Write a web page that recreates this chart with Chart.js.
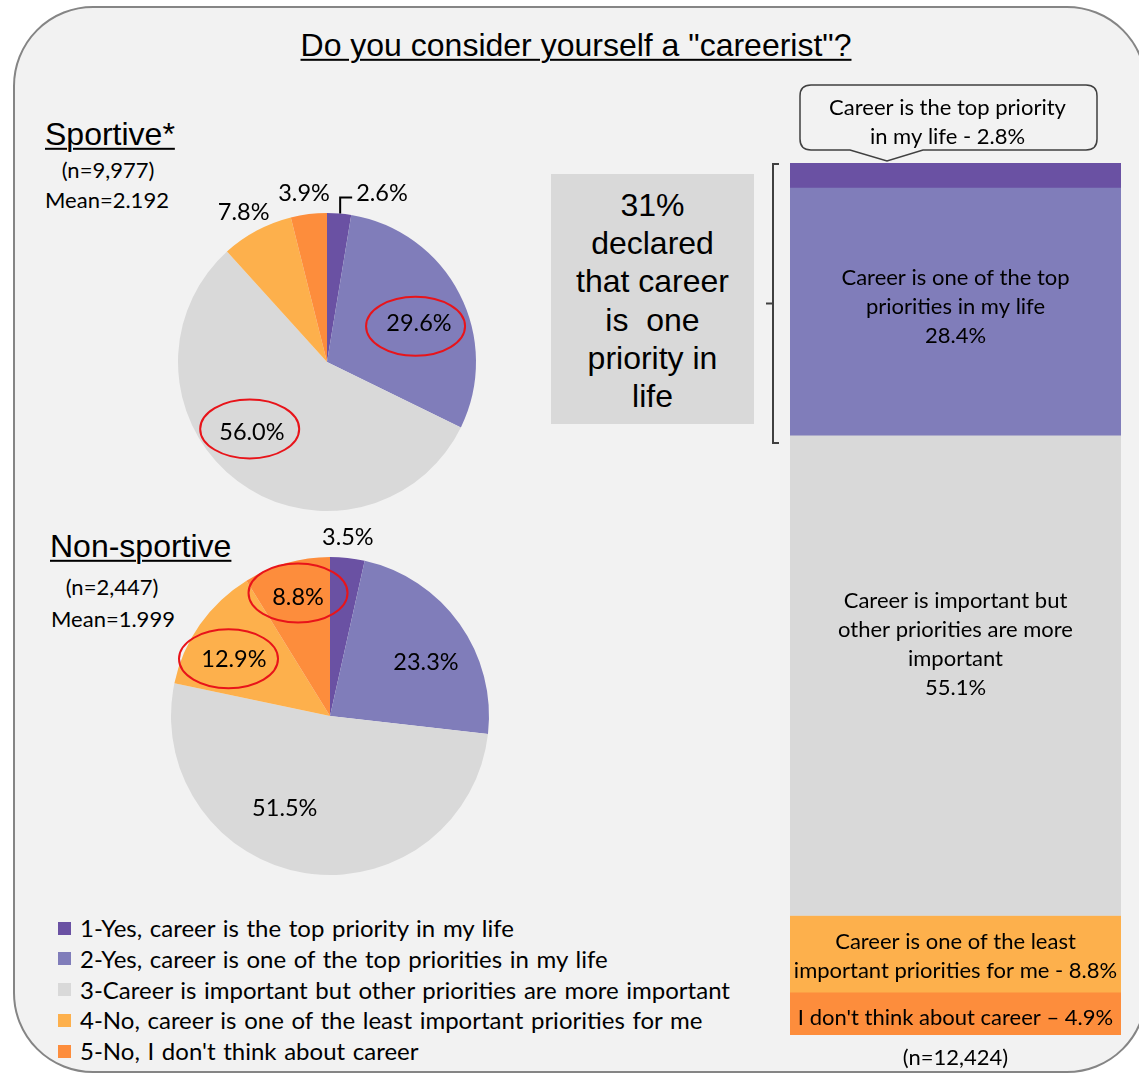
<!DOCTYPE html>
<html><head><meta charset="utf-8">
<script src="https://cdn.jsdelivr.net/npm/chart.js@4.4.1/dist/chart.umd.min.js"></script>
<style>
html,body{margin:0;padding:0;background:#fff;}
#wrap{position:relative;width:1139px;height:1075px;overflow:hidden;background:#fff;}
#frame{position:absolute;left:13px;top:6px;width:1134px;height:1067px;box-sizing:border-box;border:2px solid #858585;border-radius:80px;background:#F2F2F2;}
.t{position:absolute;white-space:nowrap;color:#000;line-height:1.2;}
.c{transform:translate(-50%,-50%);text-align:center;}
.l{transform:translate(0,-50%);}
.arial{font-family:"Liberation Sans",Arial,sans-serif;}
.cal{font-family:Lato,"Noto Sans",sans-serif;}
.u{text-decoration:underline;text-decoration-thickness:2px;text-underline-offset:3px;}
canvas{position:absolute;}
#box{position:absolute;left:551px;top:174px;width:203px;height:250px;background:#D9D9D9;}
#boxtext{position:absolute;left:0;top:12px;width:203px;text-align:center;font-family:"Liberation Sans",Arial,sans-serif;font-size:32px;line-height:38.2px;color:#000;}
.sw{position:absolute;width:13px;height:13px;}
</style></head>
<body>
<div id="wrap">
  <div id="frame"></div>
  <div class="t c arial u" style="left:576px;top:45px;font-size:32px;">Do you consider yourself a "careerist"?</div>
  <div class="t l arial u" style="left:45px;top:134px;font-size:32px;">Sportive*</div>
  <div class="t c cal" style="left:108px;top:170px;font-size:22px;">(n=9,977)</div>
  <div class="t l cal" style="left:45px;top:200px;font-size:22px;">Mean=2.192</div>
  <div class="t l arial u" style="left:50px;top:546px;font-size:32px;">Non-sportive</div>
  <div class="t c cal" style="left:112px;top:587px;font-size:22px;">(n=2,447)</div>
  <div class="t l cal" style="left:51px;top:619px;font-size:22px;">Mean=1.999</div>
  <div id="box"><div id="boxtext">31%<br>declared<br>that career<br>is&nbsp; one<br>priority in<br>life</div></div>
  <canvas id="pie1" width="360" height="350" style="left:150px;top:170px;"></canvas>
  <canvas id="pie2" width="360" height="360" style="left:150px;top:520px;"></canvas>
  <canvas id="bar" width="399" height="1005" style="left:740px;top:70px;"></canvas>
  <div id="legend"></div>
</div>
<script>
// ---- data ----
const categories = [
  '1-Yes, career is the top priority in my life',
  '2-Yes, career is one of the top priorities in my life',
  '3-Career is important but other priorities are more important',
  '4-No, career is one of the least important priorities for me',
  "5-No, I don't think about career"
];
const sportiveValues = [2.6, 29.6, 56.0, 7.8, 3.9];
const nonSportiveValues = [3.5, 23.3, 51.5, 12.9, 8.8];
const totalValues = [2.8, 28.4, 55.1, 8.8, 4.9];
const totalLabelLines = [
  ['Career is the top priority', 'in my life - {v}'],
  ['Career is one of the top', 'priorities in my life', '{v}'],
  ['Career is important but', 'other priorities are more', 'important', '{v}'],
  ['Career is one of the least', 'important priorities for me - {v}'],
  ["I don't think about career \u2013 {v}"]
];
const totalN = '(n=12,424)';
const colors = ['#6A51A3', '#807DBA', '#D9D9D9', '#FDB04C', '#FD8D3C'];

const CAL = 'Lato, "Noto Sans", sans-serif';
const fmt = v => v.toFixed(1) + '%';

// ---- legend ----
const leg = document.getElementById('legend');
categories.forEach((c, i) => {
  const y = 928 + i * 30.8;
  const sw = document.createElement('div');
  sw.className = 'sw';
  sw.style.left = '58px'; sw.style.top = (y - 6.5) + 'px'; sw.style.background = colors[i];
  leg.appendChild(sw);
  const t = document.createElement('div');
  t.className = 't l cal';
  t.style.left = '80px'; t.style.top = y + 'px'; t.style.fontSize = '24px'; t.style.wordSpacing = '1.5px';
  t.textContent = c;
  leg.appendChild(t);
});

// ---- pie label plugin ----
const pieLabelPlugin = {
  id: 'pieLabels',
  afterDatasetsDraw(chart, args, o) {
    const ctx = chart.ctx;
    const meta = chart.getDatasetMeta(0);
    const vals = chart.data.datasets[0].data;
    ctx.save();
    ctx.font = o.fontSize + 'px ' + CAL;
    ctx.fillStyle = '#000';
    ctx.textBaseline = 'middle';
    meta.data.forEach((arc, i) => {
      const p = arc.getProps(['x', 'y', 'startAngle', 'endAngle', 'outerRadius'], true);
      const txt = fmt(vals[i]);
      if (o.leader === i) {
        const mid = (p.startAngle + p.endAngle) / 2;
        const sx = p.x + Math.cos(mid) * p.outerRadius;
        const sy = p.y + Math.sin(mid) * p.outerRadius;
        ctx.strokeStyle = '#000'; ctx.lineWidth = 2;
        ctx.beginPath();
        ctx.moveTo(sx + 1, sy);
        ctx.lineTo(sx + 1, sy - 16);
        ctx.lineTo(sx + 13, sy - 16);
        ctx.stroke();
        ctx.textAlign = 'left';
        ctx.fillText(txt, sx + 17, sy - 20);
        return;
      }
      const mid = (p.startAngle + p.endAngle) / 2 + (o.shift[i] || 0) * Math.PI / 180;
      const lx = p.x + Math.cos(mid) * p.outerRadius * o.radial[i];
      const ly = p.y + Math.sin(mid) * p.outerRadius * o.radial[i];
      ctx.textAlign = 'center';
      ctx.fillText(txt, lx, ly);
      const e = o.ellipse[i];
      if (e) {
        ctx.strokeStyle = '#E8141A'; ctx.lineWidth = 2;
        ctx.beginPath();
        ctx.ellipse(lx + e[0], ly + e[1], 49.5, 29.5, 0, 0, Math.PI * 2);
        ctx.stroke();
      }
    });
    ctx.restore();
  }
};

function makePie(id, values, padding, labelOpts) {
  return new Chart(document.getElementById(id), {
    type: 'pie',
    data: { labels: categories, datasets: [{ data: values, backgroundColor: colors, borderWidth: 0 }] },
    options: {
      responsive: false, animation: false, events: [],
      layout: { padding },
      plugins: { legend: { display: false }, tooltip: { enabled: false }, pieLabels: labelOpts }
    },
    plugins: [pieLabelPlugin]
  });
}

makePie('pie1', sportiveValues, { left: 28, right: 34, top: 43, bottom: 9 }, {
  fontSize: 23.5, leader: 0,
  radial: [0, 0.67, 0.69, 1.15, 1.145],
  shift: [0, 4.4, 10, -1, -0.7],
  ellipse: { 1: [-3.4, 3], 2: [-2.2, -3.3] }
});
makePie('pie2', nonSportiveValues, { left: 21, right: 21, top: 37, bottom: 5 }, {
  fontSize: 23.5, leader: -1,
  radial: [1.13, 0.69, 0.645, 0.70, 0.775],
  shift: [-0.6, 6.5, 17, -4.8, 0.8],
  ellipse: { 3: [-5.4, -1], 4: [0, -4] }
});

// ---- stacked bar ----
const barLabelPlugin = {
  id: 'barLabels',
  afterDatasetsDraw(chart, args, o) {
    const ctx = chart.ctx;
    ctx.save();
    ctx.font = o.fontSize + 'px ' + CAL;
    ctx.fillStyle = '#000';
    ctx.textAlign = 'center';
    ctx.textBaseline = 'middle';
    const segs = chart.data.datasets.map((ds, i) => {
      const b = chart.getDatasetMeta(i).data[0].getProps(['x', 'y', 'base', 'width'], true);
      return { x: b.x, w: b.width, top: Math.min(b.y, b.base), bottom: Math.max(b.y, b.base) };
    });
    chart.data.datasets.forEach((ds, i) => {
      const s = segs[i];
      const lines = totalLabelLines[i].map(l => l.replace('{v}', fmt(totalValues[i])));
      if (i === 0) {
        // callout
        const tipX = s.x - 68.5, tipY = s.top - 2;
        const L = s.x - 155.5, R = s.x + 141.5, T = s.top - 78, B = s.top - 13, r = 11;
        ctx.beginPath();
        ctx.moveTo(L + r, T);
        ctx.lineTo(R - r, T); ctx.quadraticCurveTo(R, T, R, T + r);
        ctx.lineTo(R, B - r); ctx.quadraticCurveTo(R, B, R - r, B);
        ctx.lineTo(tipX + 36, B); ctx.lineTo(tipX, tipY); ctx.lineTo(tipX - 37, B);
        ctx.lineTo(L + r, B); ctx.quadraticCurveTo(L, B, L, B - r);
        ctx.lineTo(L, T + r); ctx.quadraticCurveTo(L, T, L + r, T);
        ctx.closePath();
        ctx.fillStyle = '#F2F2F2'; ctx.fill();
        ctx.strokeStyle = '#404040'; ctx.lineWidth = 1.5; ctx.stroke();
        ctx.fillStyle = '#000';
        const cx = (L + R) / 2 - 1, cy = (T + B) / 2 + 5;
        lines.forEach((ln, k) => ctx.fillText(ln, cx, cy + (k - (lines.length - 1) / 2) * o.lineH));
        return;
      }
      const cy = (s.top + s.bottom) / 2 + (o.offsets[i] || 0);
      lines.forEach((ln, k) => ctx.fillText(ln, s.x, cy + (k - (lines.length - 1) / 2) * o.lineH));
    });
    // bracket over first two segments
    const bx = segs[0].x - segs[0].w / 2 - 17;
    const by0 = segs[0].top + 1, by1 = segs[1].bottom + 8;
    ctx.strokeStyle = '#404040'; ctx.lineWidth = 2;
    ctx.beginPath();
    ctx.moveTo(bx + 6, by0); ctx.lineTo(bx, by0); ctx.lineTo(bx, by1); ctx.lineTo(bx + 6, by1);
    ctx.moveTo(bx, (by0 + by1) / 2); ctx.lineTo(bx - 7, (by0 + by1) / 2);
    ctx.stroke();
    // n label
    const last = segs[segs.length - 1];
    ctx.fillText(totalN, last.x, last.bottom + 23);
    ctx.restore();
  }
};

new Chart(document.getElementById('bar'), {
  type: 'bar',
  data: {
    labels: ['All'],
    datasets: totalValues.map((v, i) => ({
      label: categories[i], data: [v], backgroundColor: colors[i], borderWidth: 0,
      barPercentage: 1, categoryPercentage: 1
    }))
  },
  options: {
    responsive: false, animation: false, events: [],
    layout: { padding: { left: 50, right: 18, top: 93, bottom: 40 } },
    scales: {
      x: { display: false, stacked: true },
      y: { display: false, stacked: true, min: 0, max: 100, reverse: true }
    },
    plugins: {
      legend: { display: false }, tooltip: { enabled: false },
      barLabels: { fontSize: 22, lineH: 29, offsets: [0, -4, -31, 3, 4] }
    }
  },
  plugins: [barLabelPlugin]
});
</script>
</body></html>
